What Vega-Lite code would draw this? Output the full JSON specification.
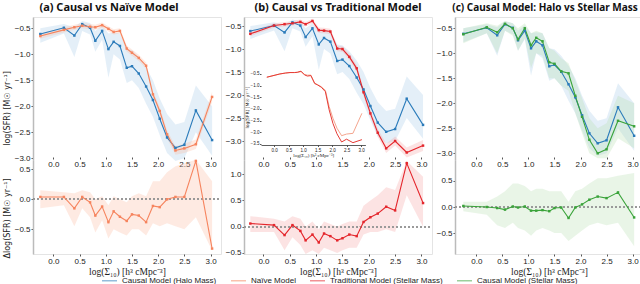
{
"$schema": "https://vega.github.io/schema/vega-lite/v6.json",
"padding": {"left": 2, "top": 1, "right": 0, "bottom": 0},
"datasets": {
"top": [
{"s":"C","x":-0.25,"y":-0.61,"lo":-0.78,"hi":-0.5},
{"s":"C","x":0.2,"y":-0.49,"lo":-0.6,"hi":-0.42},
{"s":"C","x":0.4,"y":-0.64,"lo":-1.05,"hi":-0.48},
{"s":"C","x":0.55,"y":-0.42,"lo":-0.55,"hi":-0.36},
{"s":"C","x":0.7,"y":-0.49,"lo":-0.62,"hi":-0.4},
{"s":"C","x":0.8,"y":-0.74,"lo":-0.95,"hi":-0.55},
{"s":"C","x":0.93,"y":-0.55,"lo":-0.72,"hi":-0.44},
{"s":"C","x":1.05,"y":-0.9,"lo":-1.45,"hi":-0.6},
{"s":"C","x":1.15,"y":-0.76,"lo":-1.0,"hi":-0.58},
{"s":"C","x":1.27,"y":-0.84,"lo":-1.1,"hi":-0.6},
{"s":"C","x":1.4,"y":-1.26,"lo":-1.55,"hi":-0.9},
{"s":"C","x":1.5,"y":-1.23,"lo":-1.5,"hi":-0.92},
{"s":"C","x":1.63,"y":-1.37,"lo":-1.65,"hi":-1.05},
{"s":"C","x":1.77,"y":-1.62,"lo":-1.95,"hi":-1.25},
{"s":"C","x":1.9,"y":-1.88,"lo":-2.2,"hi":-1.5},
{"s":"C","x":2.03,"y":-2.24,"lo":-2.55,"hi":-1.85},
{"s":"C","x":2.17,"y":-2.6,"lo":-2.9,"hi":-2.15},
{"s":"C","x":2.33,"y":-2.8,"lo":-3.05,"hi":-2.35},
{"s":"C","x":2.5,"y":-2.74,"lo":-3.0,"hi":-2.3},
{"s":"C","x":2.72,"y":-2.08,"lo":-2.5,"hi":-1.6},
{"s":"C","x":3.03,"y":-2.65,"lo":-2.95,"hi":-2.0},
{"s":"N","x":-0.25,"y":-0.65,"lo":-0.7,"hi":-0.6},
{"s":"N","x":0.2,"y":-0.53,"lo":-0.58,"hi":-0.48},
{"s":"N","x":0.4,"y":-0.48,"lo":-0.53,"hi":-0.43},
{"s":"N","x":0.55,"y":-0.45,"lo":-0.5,"hi":-0.4},
{"s":"N","x":0.7,"y":-0.47,"lo":-0.52,"hi":-0.42},
{"s":"N","x":0.8,"y":-0.48,"lo":-0.53,"hi":-0.43},
{"s":"N","x":0.93,"y":-0.44,"lo":-0.49,"hi":-0.39},
{"s":"N","x":1.05,"y":-0.51,"lo":-0.56,"hi":-0.46},
{"s":"N","x":1.15,"y":-0.57,"lo":-0.62,"hi":-0.52},
{"s":"N","x":1.27,"y":-0.55,"lo":-0.6,"hi":-0.5},
{"s":"N","x":1.4,"y":-0.89,"lo":-0.95,"hi":-0.83},
{"s":"N","x":1.5,"y":-0.97,"lo":-1.03,"hi":-0.91},
{"s":"N","x":1.63,"y":-1.07,"lo":-1.13,"hi":-1.01},
{"s":"N","x":1.77,"y":-1.22,"lo":-1.28,"hi":-1.16},
{"s":"N","x":1.9,"y":-1.77,"lo":-1.83,"hi":-1.71},
{"s":"N","x":2.03,"y":-2.09,"lo":-2.16,"hi":-2.02},
{"s":"N","x":2.17,"y":-2.54,"lo":-2.62,"hi":-2.46},
{"s":"N","x":2.33,"y":-2.85,"lo":-2.93,"hi":-2.77},
{"s":"N","x":2.5,"y":-2.81,"lo":-2.9,"hi":-2.72},
{"s":"N","x":2.72,"y":-2.73,"lo":-2.82,"hi":-2.64},
{"s":"N","x":3.03,"y":-1.82,"lo":-1.92,"hi":-1.72},
{"s":"T","x":-0.25,"y":-0.67,"lo":-0.72,"hi":-0.62},
{"s":"T","x":0.2,"y":-0.49,"lo":-0.54,"hi":-0.44},
{"s":"T","x":0.4,"y":-0.46,"lo":-0.51,"hi":-0.41},
{"s":"T","x":0.55,"y":-0.44,"lo":-0.49,"hi":-0.39},
{"s":"T","x":0.7,"y":-0.41,"lo":-0.46,"hi":-0.36},
{"s":"T","x":0.8,"y":-0.46,"lo":-0.51,"hi":-0.41},
{"s":"T","x":0.93,"y":-0.39,"lo":-0.44,"hi":-0.34},
{"s":"T","x":1.05,"y":-0.59,"lo":-0.65,"hi":-0.53},
{"s":"T","x":1.15,"y":-0.6,"lo":-0.66,"hi":-0.54},
{"s":"T","x":1.27,"y":-0.62,"lo":-0.68,"hi":-0.56},
{"s":"T","x":1.4,"y":-0.99,"lo":-1.05,"hi":-0.93},
{"s":"T","x":1.5,"y":-1.0,"lo":-1.06,"hi":-0.94},
{"s":"T","x":1.63,"y":-1.17,"lo":-1.24,"hi":-1.1},
{"s":"T","x":1.77,"y":-1.42,"lo":-1.49,"hi":-1.35},
{"s":"T","x":1.9,"y":-1.94,"lo":-2.02,"hi":-1.86},
{"s":"T","x":2.03,"y":-2.4,"lo":-2.48,"hi":-2.32},
{"s":"T","x":2.17,"y":-2.82,"lo":-2.91,"hi":-2.73},
{"s":"T","x":2.33,"y":-3.16,"lo":-3.26,"hi":-3.06},
{"s":"T","x":2.5,"y":-3.0,"lo":-3.1,"hi":-2.9},
{"s":"T","x":2.72,"y":-3.25,"lo":-3.36,"hi":-3.14},
{"s":"T","x":3.03,"y":-3.1,"lo":-3.22,"hi":-2.98},
{"s":"G","x":-0.25,"y":-0.62,"lo":-0.8,"hi":-0.5},
{"s":"G","x":0.2,"y":-0.48,"lo":-0.6,"hi":-0.4},
{"s":"G","x":0.4,"y":-0.58,"lo":-1.0,"hi":-0.45},
{"s":"G","x":0.55,"y":-0.41,"lo":-0.55,"hi":-0.35},
{"s":"G","x":0.7,"y":-0.5,"lo":-0.65,"hi":-0.4},
{"s":"G","x":0.8,"y":-0.72,"lo":-0.95,"hi":-0.5},
{"s":"G","x":0.93,"y":-0.5,"lo":-0.7,"hi":-0.4},
{"s":"G","x":1.05,"y":-0.84,"lo":-1.3,"hi":-0.6},
{"s":"G","x":1.15,"y":-0.69,"lo":-1.0,"hi":-0.55},
{"s":"G","x":1.27,"y":-0.76,"lo":-1.05,"hi":-0.6},
{"s":"G","x":1.4,"y":-1.18,"lo":-1.5,"hi":-0.9},
{"s":"G","x":1.5,"y":-1.21,"lo":-1.5,"hi":-0.95},
{"s":"G","x":1.63,"y":-1.36,"lo":-1.65,"hi":-1.1},
{"s":"G","x":1.77,"y":-1.4,"lo":-1.75,"hi":-1.2},
{"s":"G","x":1.9,"y":-1.85,"lo":-2.2,"hi":-1.55},
{"s":"G","x":2.03,"y":-2.27,"lo":-2.6,"hi":-1.9},
{"s":"G","x":2.17,"y":-2.73,"lo":-3.0,"hi":-2.3},
{"s":"G","x":2.33,"y":-3.0,"lo":-3.1,"hi":-2.5},
{"s":"G","x":2.5,"y":-2.92,"lo":-3.1,"hi":-2.4},
{"s":"G","x":2.72,"y":-2.35,"lo":-2.7,"hi":-1.85},
{"s":"G","x":3.03,"y":-2.46,"lo":-2.9,"hi":-2.0}
],
"bot": [
{"s":"N","x":-0.25,"d":0.04,"lo":-0.15,"hi":0.15},
{"s":"N","x":0.2,"d":0.04,"lo":-0.1,"hi":0.12},
{"s":"N","x":0.4,"d":-0.15,"lo":-0.45,"hi":0.1},
{"s":"N","x":0.55,"d":0.04,"lo":-0.15,"hi":0.15},
{"s":"N","x":0.7,"d":-0.05,"lo":-0.3,"hi":0.12},
{"s":"N","x":0.8,"d":-0.27,"lo":-0.55,"hi":0.0},
{"s":"N","x":0.93,"d":-0.12,"lo":-0.35,"hi":0.05},
{"s":"N","x":1.05,"d":-0.38,"lo":-0.65,"hi":-0.1},
{"s":"N","x":1.15,"d":-0.2,"lo":-0.5,"hi":0.05},
{"s":"N","x":1.27,"d":-0.29,"lo":-0.55,"hi":0.0},
{"s":"N","x":1.4,"d":-0.36,"lo":-0.6,"hi":-0.05},
{"s":"N","x":1.5,"d":-0.25,"lo":-0.5,"hi":0.05},
{"s":"N","x":1.63,"d":-0.27,"lo":-0.5,"hi":0.1},
{"s":"N","x":1.77,"d":-0.38,"lo":-0.6,"hi":0.05},
{"s":"N","x":1.9,"d":-0.11,"lo":-0.4,"hi":0.3},
{"s":"N","x":2.03,"d":-0.13,"lo":-0.45,"hi":0.3},
{"s":"N","x":2.17,"d":0.0,"lo":-0.4,"hi":0.45},
{"s":"N","x":2.33,"d":0.04,"lo":-0.45,"hi":0.55},
{"s":"N","x":2.5,"d":0.04,"lo":-0.5,"hi":0.6},
{"s":"N","x":2.72,"d":0.64,"lo":-0.3,"hi":0.66},
{"s":"N","x":3.03,"d":-0.82,"lo":-0.85,"hi":0.3},
{"s":"T","x":-0.25,"d":0.06,"lo":-0.1,"hi":0.2},
{"s":"T","x":0.2,"d":0.03,"lo":-0.1,"hi":0.15},
{"s":"T","x":0.4,"d":-0.16,"lo":-0.45,"hi":0.1},
{"s":"T","x":0.55,"d":0.03,"lo":-0.2,"hi":0.2},
{"s":"T","x":0.7,"d":-0.08,"lo":-0.35,"hi":0.15},
{"s":"T","x":0.8,"d":-0.26,"lo":-0.52,"hi":0.0},
{"s":"T","x":0.93,"d":-0.15,"lo":-0.45,"hi":0.1},
{"s":"T","x":1.05,"d":-0.3,"lo":-0.52,"hi":-0.05},
{"s":"T","x":1.15,"d":-0.13,"lo":-0.4,"hi":0.1},
{"s":"T","x":1.27,"d":-0.18,"lo":-0.45,"hi":0.05},
{"s":"T","x":1.4,"d":-0.26,"lo":-0.5,"hi":0.0},
{"s":"T","x":1.5,"d":-0.22,"lo":-0.45,"hi":0.05},
{"s":"T","x":1.63,"d":-0.15,"lo":-0.4,"hi":0.1},
{"s":"T","x":1.77,"d":-0.18,"lo":-0.4,"hi":0.1},
{"s":"T","x":1.9,"d":0.09,"lo":-0.15,"hi":0.4},
{"s":"T","x":2.03,"d":0.18,"lo":-0.1,"hi":0.5},
{"s":"T","x":2.17,"d":0.25,"lo":-0.1,"hi":0.6},
{"s":"T","x":2.33,"d":0.38,"lo":-0.05,"hi":0.75},
{"s":"T","x":2.5,"d":0.31,"lo":-0.1,"hi":0.7},
{"s":"T","x":2.72,"d":1.21,"lo":0.6,"hi":1.25},
{"s":"T","x":3.03,"d":0.45,"lo":0.0,"hi":0.95},
{"s":"G","x":-0.25,"d":0.02,"lo":-0.08,"hi":0.1},
{"s":"G","x":0.2,"d":0.0,"lo":-0.15,"hi":0.1},
{"s":"G","x":0.4,"d":-0.02,"lo":-0.35,"hi":0.2},
{"s":"G","x":0.55,"d":-0.05,"lo":-0.4,"hi":0.3},
{"s":"G","x":0.7,"d":0.01,"lo":-0.3,"hi":0.45},
{"s":"G","x":0.8,"d":-0.01,"lo":-0.4,"hi":0.45},
{"s":"G","x":0.93,"d":0.01,"lo":-0.45,"hi":0.4},
{"s":"G","x":1.05,"d":-0.07,"lo":-0.55,"hi":0.3},
{"s":"G","x":1.15,"d":-0.07,"lo":-0.45,"hi":0.35},
{"s":"G","x":1.27,"d":-0.06,"lo":-0.4,"hi":0.35},
{"s":"G","x":1.4,"d":-0.08,"lo":-0.45,"hi":0.3},
{"s":"G","x":1.5,"d":-0.02,"lo":-0.5,"hi":0.3},
{"s":"G","x":1.63,"d":-0.01,"lo":-0.5,"hi":0.3},
{"s":"G","x":1.77,"d":-0.21,"lo":-0.65,"hi":0.1},
{"s":"G","x":1.9,"d":-0.01,"lo":-0.55,"hi":0.3},
{"s":"G","x":2.03,"d":0.05,"lo":-0.45,"hi":0.35},
{"s":"G","x":2.17,"d":0.14,"lo":-0.35,"hi":0.45},
{"s":"G","x":2.33,"d":0.2,"lo":-0.3,"hi":0.55},
{"s":"G","x":2.5,"d":0.17,"lo":-0.35,"hi":0.55},
{"s":"G","x":2.72,"d":0.28,"lo":-0.3,"hi":0.6},
{"s":"G","x":3.03,"d":-0.2,"lo":-0.75,"hi":0.65}
],
"ins": [
{"s":"L","x":-0.25,"y":-0.64},{"s":"L","x":0.2,"y":-0.5},{"s":"L","x":0.4,"y":-0.46},{"s":"L","x":0.55,"y":-0.44},{"s":"L","x":0.7,"y":-0.44},{"s":"L","x":0.8,"y":-0.43},{"s":"L","x":0.93,"y":-0.4},{"s":"L","x":1.05,"y":-0.52},{"s":"L","x":1.15,"y":-0.55},{"s":"L","x":1.27,"y":-0.55},{"s":"L","x":1.4,"y":-0.92},{"s":"L","x":1.5,"y":-0.96},{"s":"L","x":1.63,"y":-1.05},{"s":"L","x":1.77,"y":-1.2},{"s":"L","x":1.9,"y":-1.9},{"s":"L","x":2.03,"y":-2.4},{"s":"L","x":2.17,"y":-2.83},{"s":"L","x":2.33,"y":-3.15},{"s":"L","x":2.5,"y":-3.08},{"s":"L","x":2.72,"y":-3.05},{"s":"L","x":3.03,"y":-2.19},
{"s":"R","x":-0.25,"y":-0.64},{"s":"R","x":0.2,"y":-0.5},{"s":"R","x":0.4,"y":-0.46},{"s":"R","x":0.55,"y":-0.44},{"s":"R","x":0.7,"y":-0.44},{"s":"R","x":0.8,"y":-0.43},{"s":"R","x":0.93,"y":-0.38},{"s":"R","x":1.05,"y":-0.54},{"s":"R","x":1.15,"y":-0.59},{"s":"R","x":1.27,"y":-0.57},{"s":"R","x":1.4,"y":-0.9},{"s":"R","x":1.5,"y":-0.97},{"s":"R","x":1.63,"y":-1.07},{"s":"R","x":1.77,"y":-1.26},{"s":"R","x":1.9,"y":-2.04},{"s":"R","x":2.03,"y":-2.62},{"s":"R","x":2.17,"y":-3.07},{"s":"R","x":2.33,"y":-3.42},{"s":"R","x":2.5,"y":-3.3},{"s":"R","x":2.72,"y":-3.45},{"s":"R","x":3.03,"y":-3.32}
]
},
"bounds": "flush",
"spacing": 23,
"hconcat": [
{"width": 188, "height": 237, "title": {"text": "(a) Causal vs Naïve Model", "dx": -18},
 "layer": [
  {"data": {"name": "top"},
   "encoding": {"x": {"field": "x", "type": "quantitative", "scale": {"domain": [-0.39, 3.2], "nice": false, "zero": false}, "axis": {"orient": "bottom", "offset": -97, "title": null, "values": [0, 0.5, 1, 1.5, 2, 2.5, 3], "format": ".1f"}},
     "y": {"field": "y", "type": "quantitative", "scale": {"domain": [-3.033, -0.283], "range": [143, 0], "nice": false, "zero": false}, "axis": {"orient": "left", "title": "log(SFR) [M☉ yr⁻¹]", "titleY": 91, "values": [-3, -2.5, -2, -1.5, -1, -0.5], "format": ".1f"}}},
   "layer": [
    {"transform": [{"filter": {"field": "s", "equal": "C"}}], "mark": {"type": "area", "color": "#a6cbe8", "opacity": 0.3, "clip": true}, "encoding": {"y": {"field": "lo", "type": "quantitative"}, "y2": {"field": "hi"}}},
    {"transform": [{"filter": {"field": "s", "equal": "N"}}], "mark": {"type": "area", "color": "#fbb9a0", "opacity": 0.3, "clip": true}, "encoding": {"y": {"field": "lo", "type": "quantitative"}, "y2": {"field": "hi"}}},
    {"transform": [{"filter": {"field": "s", "oneOf": ["C", "N"]}}], "mark": {"type": "line", "strokeWidth": 1.1, "clip": true, "point": {"filled": true, "size": 6, "shape": "square"}}, "encoding": {"color": {"field": "s", "type": "nominal", "scale": {"domain": ["C", "N", "T", "G"], "range": ["#2b7bba", "#f6845e", "#e4262c", "#3aa33a"]}, "legend": {"title": null, "symbolType": "stroke", "labelExpr": "datum.label == 'C' ? 'Causal Model (Halo Mass)' : datum.label == 'N' ? 'Naïve Model' : datum.label == 'T' ? 'Traditional Model (Stellar Mass)' : 'Causal Model (Stellar Mass)'"}}}}
   ]},
  {"data": {"name": "bot"}, "transform": [{"filter": {"field": "s", "equal": "N"}}],
   "encoding": {"x": {"field": "x", "type": "quantitative", "scale": {"domain": [-0.39, 3.2], "nice": false, "zero": false}, "axis": {"orient": "bottom", "title": "log(Σ₁₀) [h³ cMpc⁻³]", "values": [0, 0.5, 1, 1.5, 2, 2.5, 3], "format": ".1f"}},
     "y": {"field": "d", "type": "quantitative", "scale": {"domain": [-0.91, 0.655], "range": [237, 143], "nice": false, "zero": false}, "axis": {"orient": "left", "title": "Δlog(SFR) [M☉ yr⁻¹]", "titleY": 201, "values": [-0.5, 0, 0.5], "format": ".1f"}}},
   "layer": [
    {"mark": {"type": "area", "color": "#fbb9a0", "opacity": 0.3, "clip": true}, "encoding": {"y": {"field": "lo", "type": "quantitative"}, "y2": {"field": "hi"}}},
    {"mark": {"type": "rule", "strokeDash": [2, 2], "color": "#999999", "strokeWidth": 0.8}, "encoding": {"x": {"datum": -0.39}, "x2": {"datum": 3.2}, "y": {"datum": 0}}},
    {"mark": {"type": "line", "strokeWidth": 1.1, "clip": true, "point": {"filled": true, "size": 6, "shape": "square"}}, "encoding": {"color": {"field": "s", "type": "nominal", "scale": {"domain": ["C", "N", "T", "G"], "range": ["#2b7bba", "#f6845e", "#e4262c", "#3aa33a"]}, "legend": {"title": null, "symbolType": "stroke", "labelExpr": "datum.label == 'C' ? 'Causal Model (Halo Mass)' : datum.label == 'N' ? 'Naïve Model' : datum.label == 'T' ? 'Traditional Model (Stellar Mass)' : 'Causal Model (Stellar Mass)'"}}}}
   ]}
 ],
 "resolve": {"scale": {"x": "independent", "y": "independent"}, "axis": {"x": "independent", "y": "independent"}}},
{"width": 188, "height": 237, "title": {"text": "(b) Causal vs Traditional Model"},
 "layer": [
  {"data": {"name": "top"},
   "encoding": {"x": {"field": "x", "type": "quantitative", "scale": {"domain": [-0.37, 3.2], "nice": false, "zero": false}, "axis": {"orient": "bottom", "offset": -97, "title": null, "values": [0, 0.5, 1, 1.5, 2, 2.5, 3], "format": ".1f"}},
     "y": {"field": "y", "type": "quantitative", "scale": {"domain": [-3.413, -0.304], "range": [143, 0], "nice": false, "zero": false}, "axis": {"orient": "left", "title": null, "values": [-3, -2.5, -2, -1.5, -1, -0.5], "format": ".1f"}}},
   "layer": [
    {"transform": [{"filter": {"field": "s", "equal": "C"}}], "mark": {"type": "area", "color": "#a6cbe8", "opacity": 0.3, "clip": true}, "encoding": {"y": {"field": "lo", "type": "quantitative"}, "y2": {"field": "hi"}}},
    {"transform": [{"filter": {"field": "s", "equal": "T"}}], "mark": {"type": "area", "color": "#f5a3a3", "opacity": 0.3, "clip": true}, "encoding": {"y": {"field": "lo", "type": "quantitative"}, "y2": {"field": "hi"}}},
    {"transform": [{"filter": {"field": "s", "oneOf": ["C", "T"]}}], "mark": {"type": "line", "strokeWidth": 1.1, "clip": true, "point": {"filled": true, "size": 6, "shape": "square"}}, "encoding": {"color": {"field": "s", "type": "nominal", "scale": {"domain": ["C", "N", "T", "G"], "range": ["#2b7bba", "#f6845e", "#e4262c", "#3aa33a"]}, "legend": {"title": null, "symbolType": "stroke", "labelExpr": "datum.label == 'C' ? 'Causal Model (Halo Mass)' : datum.label == 'N' ? 'Naïve Model' : datum.label == 'T' ? 'Traditional Model (Stellar Mass)' : 'Causal Model (Stellar Mass)'"}}}}
   ]},
  {"data": {"name": "bot"}, "transform": [{"filter": {"field": "s", "equal": "T"}}],
   "encoding": {"x": {"field": "x", "type": "quantitative", "scale": {"domain": [-0.37, 3.2], "nice": false, "zero": false}, "axis": {"orient": "bottom", "title": "log(Σ₁₀) [h³ cMpc⁻³]", "values": [0, 0.5, 1, 1.5, 2, 2.5, 3], "format": ".1f"}},
     "y": {"field": "d", "type": "quantitative", "scale": {"domain": [-0.52, 1.27], "range": [237, 143], "nice": false, "zero": false}, "axis": {"orient": "left", "title": null, "values": [-0.5, 0, 0.5, 1], "format": ".1f"}}},
   "layer": [
    {"mark": {"type": "area", "color": "#f5a3a3", "opacity": 0.3, "clip": true}, "encoding": {"y": {"field": "lo", "type": "quantitative"}, "y2": {"field": "hi"}}},
    {"mark": {"type": "rule", "strokeDash": [2, 2], "color": "#999999", "strokeWidth": 0.8}, "encoding": {"x": {"datum": -0.37}, "x2": {"datum": 3.2}, "y": {"datum": 0}}},
    {"mark": {"type": "line", "strokeWidth": 1.1, "clip": true, "point": {"filled": true, "size": 6, "shape": "square"}}, "encoding": {"color": {"field": "s", "type": "nominal", "scale": {"domain": ["C", "N", "T", "G"], "range": ["#2b7bba", "#f6845e", "#e4262c", "#3aa33a"]}, "legend": {"title": null, "symbolType": "stroke", "labelExpr": "datum.label == 'C' ? 'Causal Model (Halo Mass)' : datum.label == 'N' ? 'Naïve Model' : datum.label == 'T' ? 'Traditional Model (Stellar Mass)' : 'Causal Model (Stellar Mass)'"}}}}
   ]},
  {"data": {"name": "ins"},
   "mark": {"type": "line", "strokeWidth": 1},
   "encoding": {
    "x": {"field": "x", "type": "quantitative", "scale": {"domain": [-0.45, 3.15], "range": [17, 121.4], "nice": false, "zero": false}, "axis": {"orient": "bottom", "offset": -109, "title": "log(Σ₁₀) [h³ cMpc⁻³]", "titleFontSize": 5, "titlePadding": 1, "values": [0, 0.5, 1, 1.5, 2, 2.5, 3], "format": ".1f", "labelFontSize": 4.5, "labelPadding": 0.5, "tickSize": 1.5, "domain": true, "domainColor": "#333333", "domainWidth": 0.8}},
    "y": {"field": "y", "type": "quantitative", "scale": {"domain": [-3.55, -0.3], "range": [128, 52.3], "nice": false, "zero": false}, "axis": {"orient": "left", "offset": -17, "title": "log(SFR) [M☉ yr⁻¹]", "titleFontSize": 4.5, "titlePadding": 1, "values": [-3.5, -3, -2.5, -2, -1.5, -1, -0.5], "format": ".1f", "labelFontSize": 4.5, "labelPadding": 0.5, "tickSize": 1.5, "domain": false}},
    "stroke": {"field": "s", "type": "nominal", "scale": {"domain": ["L", "R"], "range": ["#f4a58e", "#e63b35"]}, "legend": null}
   }}
 ],
 "resolve": {"scale": {"x": "independent", "y": "independent"}, "axis": {"x": "independent", "y": "independent"}}},
{"width": 188, "height": 237, "title": {"text": "(c) Causal Model: Halo vs Stellar Mass", "fontSize": 10, "dx": -4},
 "layer": [
  {"data": {"name": "top"},
   "encoding": {"x": {"field": "x", "type": "quantitative", "scale": {"domain": [-0.41, 3.2], "nice": false, "zero": false}, "axis": {"orient": "bottom", "offset": -97, "title": null, "values": [0, 0.5, 1, 1.5, 2, 2.5, 3], "format": ".1f"}},
     "y": {"field": "y", "type": "quantitative", "scale": {"domain": [-3.134, -0.274], "range": [143, 0], "nice": false, "zero": false}, "axis": {"orient": "left", "title": null, "values": [-3, -2.5, -2, -1.5, -1, -0.5], "format": ".1f"}}},
   "layer": [
    {"transform": [{"filter": {"field": "s", "equal": "C"}}], "mark": {"type": "area", "color": "#a6cbe8", "opacity": 0.3, "clip": true}, "encoding": {"y": {"field": "lo", "type": "quantitative"}, "y2": {"field": "hi"}}},
    {"transform": [{"filter": {"field": "s", "equal": "G"}}], "mark": {"type": "area", "color": "#b5dfb0", "opacity": 0.3, "clip": true}, "encoding": {"y": {"field": "lo", "type": "quantitative"}, "y2": {"field": "hi"}}},
    {"transform": [{"filter": {"field": "s", "oneOf": ["C", "G"]}}], "mark": {"type": "line", "strokeWidth": 1.1, "clip": true, "point": {"filled": true, "size": 6, "shape": "square"}}, "encoding": {"color": {"field": "s", "type": "nominal", "scale": {"domain": ["C", "N", "T", "G"], "range": ["#2b7bba", "#f6845e", "#e4262c", "#3aa33a"]}, "legend": {"title": null, "symbolType": "stroke", "labelExpr": "datum.label == 'C' ? 'Causal Model (Halo Mass)' : datum.label == 'N' ? 'Naïve Model' : datum.label == 'T' ? 'Traditional Model (Stellar Mass)' : 'Causal Model (Stellar Mass)'"}}}}
   ]},
  {"data": {"name": "bot"}, "transform": [{"filter": {"field": "s", "equal": "G"}}],
   "encoding": {"x": {"field": "x", "type": "quantitative", "scale": {"domain": [-0.41, 3.2], "nice": false, "zero": false}, "axis": {"orient": "bottom", "title": "log(Σ₁₀) [h³ cMpc⁻³]", "values": [0, 0.5, 1, 1.5, 2, 2.5, 3], "format": ".1f"}},
     "y": {"field": "d", "type": "quantitative", "scale": {"domain": [-0.9, 0.9], "range": [237, 143], "nice": false, "zero": false}, "axis": {"orient": "left", "title": null, "values": [-0.5, 0, 0.5], "format": ".1f"}}},
   "layer": [
    {"mark": {"type": "area", "color": "#b5dfb0", "opacity": 0.3, "clip": true}, "encoding": {"y": {"field": "lo", "type": "quantitative"}, "y2": {"field": "hi"}}},
    {"mark": {"type": "rule", "strokeDash": [2, 2], "color": "#999999", "strokeWidth": 0.8}, "encoding": {"x": {"datum": -0.41}, "x2": {"datum": 3.2}, "y": {"datum": 0}}},
    {"mark": {"type": "line", "strokeWidth": 1.1, "clip": true, "point": {"filled": true, "size": 6, "shape": "square"}}, "encoding": {"color": {"field": "s", "type": "nominal", "scale": {"domain": ["C", "N", "T", "G"], "range": ["#2b7bba", "#f6845e", "#e4262c", "#3aa33a"]}, "legend": {"title": null, "symbolType": "stroke", "labelExpr": "datum.label == 'C' ? 'Causal Model (Halo Mass)' : datum.label == 'N' ? 'Naïve Model' : datum.label == 'T' ? 'Traditional Model (Stellar Mass)' : 'Causal Model (Stellar Mass)'"}}}}
   ]}
 ],
 "resolve": {"scale": {"x": "independent", "y": "independent"}, "axis": {"x": "independent", "y": "independent"}}}
],
"config": {
 "view": {"stroke": "#e4e4e4", "strokeWidth": 1},
 "axis": {"grid": false, "domain": false, "tickSize": 2, "tickColor": "#555555", "labelFont": "Liberation Sans", "labelFontSize": 8, "labelColor": "#222222", "labelPadding": 1, "titleFont": "DejaVu Sans", "titleFontSize": 8, "titleFontWeight": "normal", "titleColor": "#222222", "titlePadding": 3},
 "axisY": {"domain": true, "domainColor": "#bbbbbb", "domainWidth": 1.5},
 "axisX": {"titleFont": "Liberation Serif", "titleFontSize": 9.5, "titlePadding": 1},
 "title": {"font": "Noto Sans", "fontSize": 11, "fontWeight": "bold", "offset": 0, "color": "#111111"},
 "legend": {"orient": "none", "legendX": 68, "legendY": 255, "direction": "horizontal", "columns": 4, "symbolType": "stroke", "symbolStrokeWidth": 1.5, "symbolSize": 225, "symbolOpacity": 0.5, "labelFont": "Liberation Sans", "labelFontSize": 8, "labelColor": "#222222", "columnPadding": 11, "padding": 0}
}
}
